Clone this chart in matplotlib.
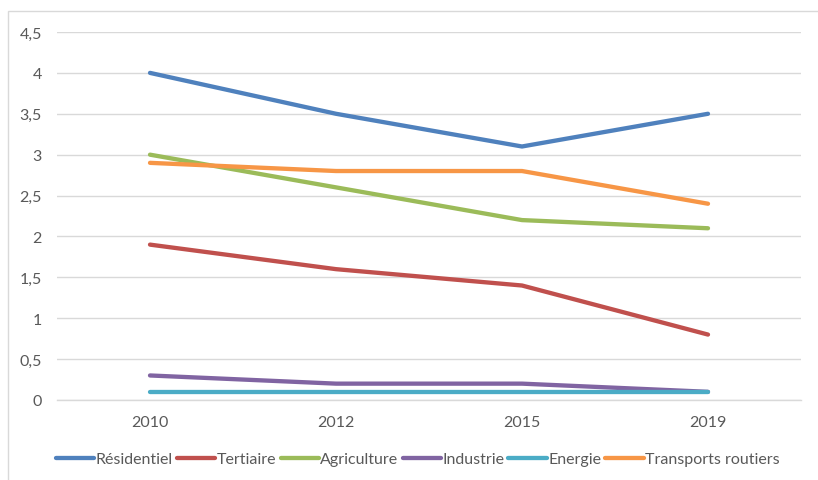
import matplotlib
matplotlib.use("Agg")
import matplotlib.pyplot as plt
from matplotlib.patches import Rectangle
from matplotlib.ticker import FuncFormatter

# données
annees = ["2010", "2012", "2015", "2019"]
residentiel = [4.0, 3.5, 3.1, 3.5]
tertiaire = [1.9, 1.6, 1.4, 0.8]
agriculture = [3.0, 2.6, 2.2, 2.1]
industrie = [0.3, 0.2, 0.2, 0.1]
energie = [0.1, 0.1, 0.1, 0.1]
transports = [2.9, 2.8, 2.8, 2.4]

series = [
    ("Résidentiel", residentiel, "#4F81BD"),
    ("Tertiaire", tertiaire, "#C0504D"),
    ("Agriculture", agriculture, "#9BBB59"),
    ("Industrie", industrie, "#8064A2"),
    ("Energie", energie, "#4BACC6"),
    ("Transports routiers", transports, "#F79646"),
]

plt.rcParams['font.family'] = ['Lato', 'DejaVu Sans']
gris = "#595959"
taille = 11.5

fig = plt.figure(figsize=(8.18, 4.81), dpi=100)
ax = fig.add_axes([57 / 818, 1 - 401 / 481, (801 - 57) / 818, (401 - 33) / 481])

x = range(len(annees))
for nom, vals, coul in series:
    ax.plot(x, vals, color=coul, lw=3.1, label=nom,
            solid_capstyle="round", solid_joinstyle="round")

ax.set_xlim(-0.5, len(annees) - 0.5)
ax.set_ylim(0, 4.5)
ax.set_yticks([i * 0.5 for i in range(10)])
ax.yaxis.set_major_formatter(FuncFormatter(lambda v, p: f"{v:g}".replace(".", ",")))
ax.set_xticks(list(x))
ax.set_xticklabels(annees)
ax.grid(axis="y", color="#D9D9D9", lw=1)
ax.set_axisbelow(True)
for s in ["top", "right", "left"]:
    ax.spines[s].set_visible(False)
ax.spines["bottom"].set_color("#D9D9D9")
ax.spines["bottom"].set_linewidth(1)
ax.tick_params(length=0, colors=gris, labelsize=taille)
ax.tick_params(axis="x", pad=11)
ax.tick_params(axis="y", pad=11)

leg = fig.legend(loc="center", bbox_to_anchor=(418 / 818, 1 - 460 / 481), ncol=6,
                 frameon=False, fontsize=taille, handlelength=2.4, handletextpad=0.1,
                 columnspacing=0.25)
for t in leg.get_texts():
    t.set_color(gris)

# cadre du graphique
fig.patches.append(Rectangle((8 / 818, -0.1), 1.0, 1 - 12 / 481 + 0.1,
                             transform=fig.transFigure, fill=False,
                             edgecolor="#D9D9D9", lw=1))

fig.savefig("out.png", dpi=100)
